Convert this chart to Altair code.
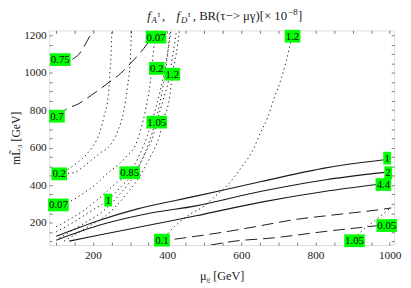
import altair as alt
import pandas as pd

X_DOMAIN = [82, 1012]
Y_DOMAIN = [80, 1226]

# ---- solid contours (BR) ----
br1_x = [101, 214, 320, 478, 654, 828, 985]
br1_y = [127, 210, 273, 341, 419, 492, 535]
br2_x = [101, 214, 346, 478, 654, 828, 986]
br2_y = [106, 184, 247, 289, 367, 429, 468]
br44_x = [136, 214, 346, 478, 654, 828, 965]
br44_y = [101, 132, 184, 236, 309, 367, 403]

# ---- dotted contours ----
fa_a_x = [110, 130, 157, 183, 201, 217, 230, 241, 246, 249, 251]
fa_a_y = [465, 481, 518, 565, 611, 674, 768, 872, 1002, 1106, 1221]
fa_02_x = [109, 149, 170, 196, 222, 246, 267, 283, 293, 301, 304]
fa_02_y = [460, 466, 492, 533, 575, 611, 690, 794, 924, 1080, 1221]
fa_007_x = [107, 141, 170, 207, 241, 267, 293, 314, 328, 341, 351, 359, 364, 370, 373]
fa_007_y = [294, 315, 351, 403, 466, 507, 559, 611, 690, 794, 898, 1028, 1132, 1195, 1226]
fd_1_x = [101, 150, 200, 241, 275, 310, 340, 360, 376, 390, 400, 408]
fd_1_y = [150, 205, 268, 320, 390, 466, 570, 680, 800, 940, 1080, 1221]
fd_085_x = [101, 135, 170, 205, 235, 265, 299, 325, 347, 365, 381, 395, 404, 410]
fd_085_y = [178, 215, 258, 310, 362, 415, 466, 560, 665, 780, 900, 1030, 1140, 1221]
fd_105_x = [109, 175, 228, 272, 312, 341, 364, 372, 388, 404, 414, 425]
fd_105_y = [117, 195, 262, 351, 455, 570, 674, 736, 846, 960, 1080, 1221]
fd_12_x = [122, 188, 241, 286, 325, 354, 378, 393, 407, 414, 425, 433]
fd_12_y = [101, 179, 247, 341, 445, 549, 653, 768, 872, 992, 1106, 1221]
big_x = [386, 420, 464, 496, 530, 564, 601, 628, 654, 670, 688, 707, 720, 733, 741]
big_y = [106, 179, 247, 283, 341, 403, 497, 575, 690, 757, 861, 966, 1054, 1158, 1210]
brd_x = [905, 930, 960, 1000]
brd_y = [115, 165, 210, 275]

# ---- dashed contours ----
d075_x = [100, 143, 162, 193, 201]
d075_y = [1040, 1070, 1098, 1200, 1226]
d07_x = [104, 128, 162, 196, 241, 275, 301, 325, 346, 362, 368]
d07_y = [768, 805, 835, 880, 945, 997, 1049, 1101, 1153, 1200, 1226]
dU_x = [420, 478, 565, 654, 741, 828, 899, 970, 1004]
dU_y = [111, 127, 153, 184, 215, 236, 252, 268, 278]
dL_x = [517, 583, 680, 828, 970]
dL_y = [80, 101, 117, 153, 184]

# ---- contour labels ----
label_text = ["0.75", "0.7", "0.2", "0.07", "0.07", "0.2", "1.2", "1.05", "0.85", "1",
              "1.2", "0.1", "1.05", "0.05", "1", "2", "4.4"]
label_x = [112, 103, 109, 107, 370, 372, 414, 372, 299, 241, 738, 386, 905, 992, 993, 996, 983]
label_y = [1070, 768, 460, 294, 1190, 1023, 992, 736, 466, 320, 1195, 106, 103, 184, 544, 466, 403]

curves = [
    ("br1", "solid", br1_x, br1_y), ("br2", "solid", br2_x, br2_y), ("br44", "solid", br44_x, br44_y),
    ("faa", "dotted", fa_a_x, fa_a_y), ("fa02", "dotted", fa_02_x, fa_02_y),
    ("fa007", "dotted", fa_007_x, fa_007_y), ("fd1", "dotted", fd_1_x, fd_1_y),
    ("fd085", "dotted", fd_085_x, fd_085_y), ("fd105", "dotted", fd_105_x, fd_105_y),
    ("fd12", "dotted", fd_12_x, fd_12_y), ("big", "dotted", big_x, big_y),
    ("brd", "dotted", brd_x, brd_y),
    ("d075", "dashed", d075_x, d075_y), ("d07", "dashed", d07_x, d07_y),
    ("dU", "dashed", dU_x, dU_y), ("dL", "dashed", dL_x, dL_y),
]
rows = []
for name, style, xs_, ys_ in curves:
    for i, (a, b) in enumerate(zip(xs_, ys_)):
        rows.append({"curve": name, "style": style, "x": a, "y": b, "i": i})
df = pd.DataFrame(rows)

lab = pd.DataFrame({"t": label_text, "lx": label_x, "ly": label_y})
lab["n"] = lab["t"].str.len()

FONT = "Liberation Serif"
xs = alt.Scale(domain=X_DOMAIN, nice=False, zero=False)
ys = alt.Scale(domain=Y_DOMAIN, nice=False, zero=False)

LBL = "datum.value % 200 === 0 ? '' + datum.value : ''"
tick_common = dict(domain=False, tickSize={"expr": "-3"}, tickColor="#555", tickWidth=0.8,
                   labelFont=FONT, labelFontSize=11.5, labelColor="#222", grid=False)
x_axis = alt.Axis(values=list(range(100, 1001, 50)), labelExpr=LBL,
                  labelPadding=8, title="μᵨ [GeV]", titleFont=FONT, titleFontSize=12.5,
                  titleFontWeight="normal", titleColor="#222", titlePadding=9, **tick_common)
y_axis = alt.Axis(values=list(range(100, 1201, 50)), labelExpr=LBL,
                  labelPadding=6, title="mL̃₃ [GeV]", titleFont=FONT, titleFontSize=12,
                  titleFontWeight="normal", titleColor="#222", titlePadding=1, **tick_common)
x_axis2 = alt.Axis(orient="top", values=list(range(100, 1001, 50)), labels=False, title=None, **tick_common)
y_axis2 = alt.Axis(orient="right", values=list(range(100, 1201, 50)), labels=False, title=None, **tick_common)

base = alt.Chart(df)

solid = base.transform_filter(alt.datum.style == "solid").mark_line(
    color="#1a1a1a", strokeWidth=1.1, interpolate="monotone", clip=True
).encode(x=alt.X("x:Q", scale=xs, axis=x_axis), y=alt.Y("y:Q", scale=ys, axis=y_axis),
         detail="curve:N", order="i:Q")

frame_axes = base.transform_filter(alt.datum.style == "solid").mark_line(opacity=0).encode(
    x=alt.X("x:Q", scale=xs, axis=x_axis2), y=alt.Y("y:Q", scale=ys, axis=y_axis2),
    detail="curve:N", order="i:Q")

dotted = base.transform_filter(alt.datum.style == "dotted").mark_line(
    color="#1a1a1a", strokeWidth=1.0, strokeDash=[1.3, 3.2], interpolate="monotone", clip=True
).encode(x=alt.X("x:Q", scale=xs, axis=None), y=alt.Y("y:Q", scale=ys, axis=None),
         detail="curve:N", order="i:Q")

dashed = base.transform_filter(alt.datum.style == "dashed").mark_line(
    color="#1a1a1a", strokeWidth=1.0, strokeDash=[12, 6], interpolate="monotone", clip=True
).encode(x=alt.X("x:Q", scale=xs, axis=None), y=alt.Y("y:Q", scale=ys, axis=None),
         detail="curve:N", order="i:Q")

lbase = alt.Chart(lab)
rects = []
for n, w in [(1, 8), (3, 16), (4, 21)]:
    rects.append(
        lbase.transform_filter(alt.datum.n == n).mark_rect(
            color="#00ff00", xOffset=-w / 2, x2Offset=w / 2, yOffset=-6.5, y2Offset=6.5
        ).encode(x=alt.X("lx:Q", scale=xs, axis=None), x2="lx:Q",
                 y=alt.Y("ly:Q", scale=ys, axis=None), y2="ly:Q")
    )
texts = lbase.mark_text(font=FONT, fontSize=11, color="#000", baseline="middle", dy=0.5).encode(
    x=alt.X("lx:Q", scale=xs, axis=None), y=alt.Y("ly:Q", scale=ys, axis=None), text="t:N")

# title pieces (pixel offsets relative to plot area)
title_t = ["f", "A", "τ", ",", "f", "D", "τ", ",", "BR(τ−> μγ)[× 10", "−8", "]"]
title_px = [100, 104.5, 110.5, 115, 130, 134.5, 141.5, 146.5, 153, 244, 254]
title_py = [-11, -8, -13.5, -11, -11, -8, -13.5, -11, -11, -16, -11]
title_fs = [13, 9, 8, 13, 13, 9, 8, 13, 13, 9, 13]
title_it = [1, 1, 1, 0, 1, 1, 1, 0, 0, 0, 0]
tdf = pd.DataFrame({"t": title_t, "px": title_px, "py": title_py, "fs": title_fs, "it": title_it})
tbase = alt.Chart(tdf)
t_it = tbase.transform_filter(alt.datum.it == 1).mark_text(
    font=FONT, fontStyle="italic", align="left", baseline="alphabetic", color="#222"
).encode(x=alt.X("px:Q", scale=None), y=alt.Y("py:Q", scale=None), size=alt.Size("fs:Q", scale=None), text="t:N")
t_up = tbase.transform_filter(alt.datum.it == 0).mark_text(
    font=FONT, align="left", baseline="alphabetic", color="#222"
).encode(x=alt.X("px:Q", scale=None), y=alt.Y("py:Q", scale=None), size=alt.Size("fs:Q", scale=None), text="t:N")

chart = alt.layer(solid, frame_axes, dotted, dashed, *rects, texts, t_it, t_up).resolve_axis(
    x="independent", y="independent"
).properties(
    width=352, height=219,
    autosize=alt.AutoSizeParams(type="none"),
    padding={"left": 42, "top": 20, "right": 9, "bottom": 41},
).configure_view(stroke="#555", strokeWidth=1).configure(background="white")

chart.save("out.html", embed_options={"renderer": "svg", "actions": False})
